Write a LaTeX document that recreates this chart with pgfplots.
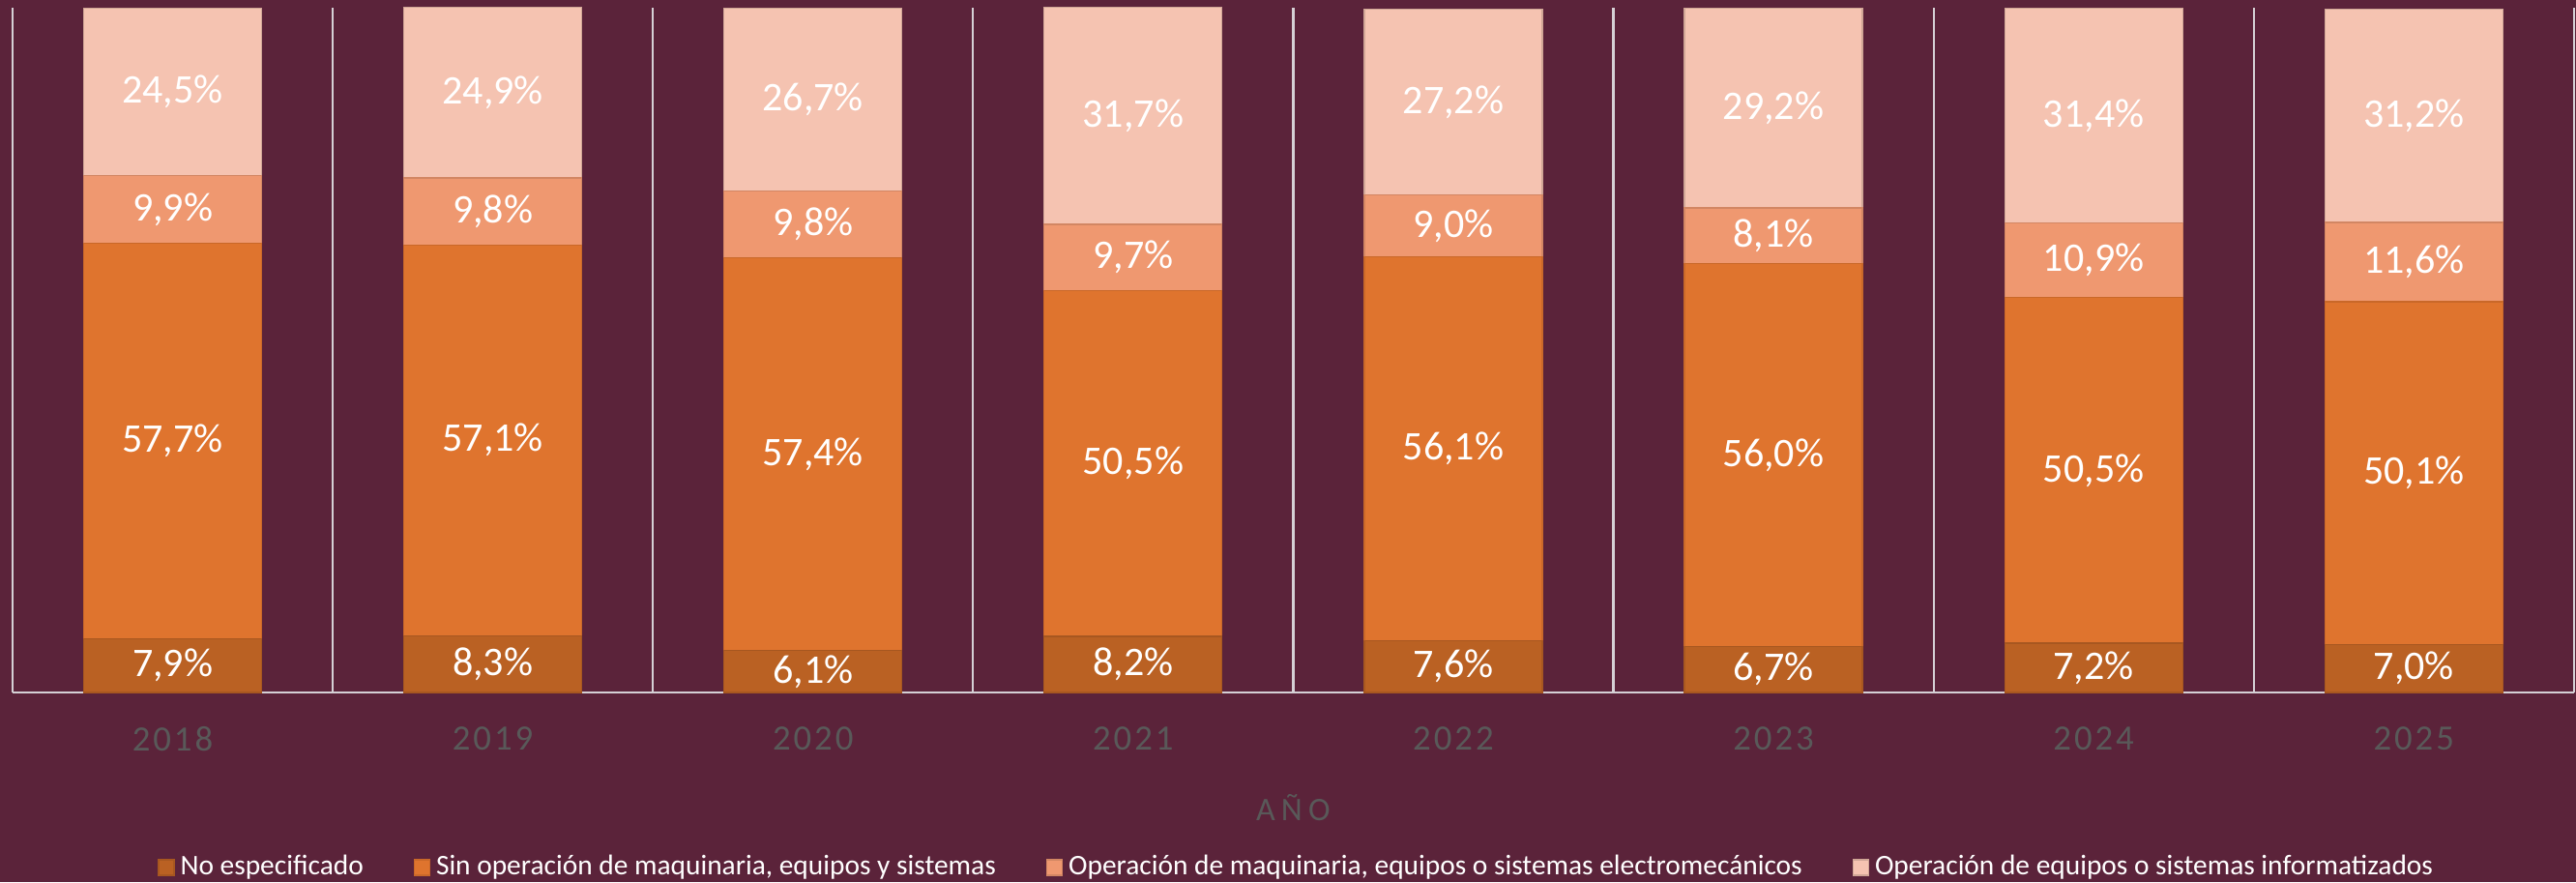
\documentclass[border=0pt]{standalone}
\usepackage{fontspec}
\setmainfont{Carlito}
\usepackage{pgfplots}
\pgfplotsset{compat=1.18}
\usepackage{pgfplotstable}
\definecolor{bgc}{HTML}{5B233A}
\definecolor{cA}{HTML}{BA6123}
\definecolor{cB}{HTML}{DF742E}
\definecolor{cC}{HTML}{EF9870}
\definecolor{cD}{HTML}{F5C3B1}
\definecolor{sepc}{HTML}{D5D0D5}
\definecolor{txtgray}{HTML}{595959}
\pgfplotsset{sqleg/.style={legend image code/.code={\fill[##1] (0pt,-2pt) rectangle (4pt,2pt);}}}
\pgfplotstableread{
x a b c d
0 7.9 57.7 9.9 24.5
1 8.3 57.1 9.8 24.9
2 6.1 57.4 9.8 26.7
3 8.2 50.5 9.7 31.7
4 7.6 56.1 9.0 27.2
5 6.7 56.0 8.1 29.2
6 7.2 50.5 10.9 31.4
7 7.0 50.1 11.6 31.2
}\datatable
\begin{document}
\begin{tikzpicture}
\fill[bgc] (0,0) rectangle (666pt,228pt);
\useasboundingbox (0,0) rectangle (666pt,228pt);
\begin{axis}[
  at={(3.25pt,49pt)}, anchor=south west,
  scale only axis, width=662.2pt, height=177.1pt,
  ybar stacked, bar width=46pt,
  xmin=-0.5, xmax=7.5, ymin=0, ymax=100.12,
  axis line style={draw=none},
  ytick=\empty,
  xtick={0,...,7},
  xticklabels={2018,2019,2020,2021,2022,2023,2024,2025},
  major tick length=0pt, minor tick length=0pt,
  minor xtick={-0.5,0.5,...,7.5},
  xminorgrids,
  minor x grid style={sepc, line width=0.55pt},
  xticklabel style={anchor=center, yshift=-12pt, text=txtgray,
    font=\fontsize{9.2}{11}\selectfont\addfontfeatures{LetterSpace=8}},
  xlabel={AÑO},
  xlabel style={at={(axis description cs:0.5,-0.168)}, anchor=center, text=txtgray,
    font=\fontsize{8.5}{10}\selectfont\addfontfeatures{LetterSpace=18}},
  legend columns=4,
  legend style={at={(0.502,-0.2555)}, anchor=center, draw=none, fill=none,
    font=\fontsize{7.35}{8.5}\selectfont, text=white, inner sep=0pt,
    nodes={inner sep=1.5pt},
    /tikz/every even column/.append style={column sep=11.5pt}},
  legend cell align=left,
  nodes near coords={\pgfmathprintnumber[fixed,fixed zerofill,precision=1,use comma,assume math mode=true]{\rawy}\%},
  every node near coord/.append style={font=\fontsize{10.5}{12}\selectfont, text=white,
    anchor=center},
]
\addplot[sqleg, fill=cA, draw=cA!90!black, line width=0.3pt,
  visualization depends on={\thisrow{a} \as \rawy}] table[x=x, y=a] {\datatable};
\addlegendentry{No especificado}
\addplot[sqleg, fill=cB, draw=cB!90!black, line width=0.3pt,
  visualization depends on={\thisrow{b} \as \rawy}] table[x=x, y=b] {\datatable};
\addlegendentry{Sin operación de maquinaria, equipos y sistemas}
\addplot[sqleg, fill=cC, draw=cC!88!black, line width=0.3pt,
  visualization depends on={\thisrow{c} \as \rawy}] table[x=x, y=c] {\datatable};
\addlegendentry{Operación de maquinaria, equipos o sistemas electromecánicos}
\addplot[sqleg, fill=cD, draw=cD!85!black, line width=0.3pt,
  visualization depends on={\thisrow{d} \as \rawy}] table[x=x, y=d] {\datatable};
\addlegendentry{Operación de equipos o sistemas informatizados}
\draw[sepc, line width=0.55pt] (axis cs:-0.5,0) -- (axis cs:7.5,0);
\draw[sepc, line width=0.55pt] (axis cs:-0.5,0) -- ++(0,-35.5pt);
\draw[sepc, line width=0.55pt] (axis cs:7.5,0) -- ++(0,-35.5pt);
\end{axis}
\end{tikzpicture}
\end{document}
